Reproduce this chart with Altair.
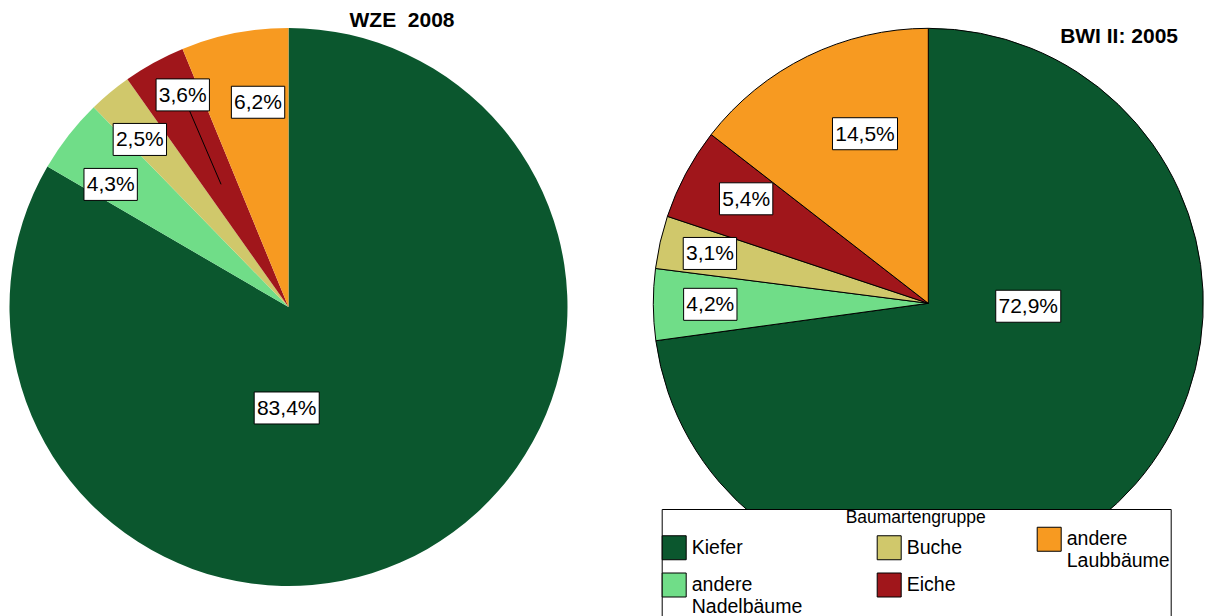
import math
import altair as alt
import pandas as pd

# ---------------- data ----------------
CATEGORIES = ["Kiefer", "andere Nadelbäume", "Buche", "Eiche", "andere Laubbäume"]
WZE_2008 = [83.4, 4.3, 2.5, 3.6, 6.2]
BWI_2005 = [72.9, 4.2, 3.1, 5.4, 14.5]
WZE_LABELS = ["83,4%", "4,3%", "2,5%", "3,6%", "6,2%"]
BWI_LABELS = ["72,9%", "4,2%", "3,1%", "5,4%", "14,5%"]
TITLE_WZE = "WZE\u00a0\u00a02008"
TITLE_BWI = "BWI II: 2005"
LEGEND_TITLE = "Baumartengruppe"
COLORS = ["#0b572e", "#70dd88", "#d0c86b", "#a0161b", "#f79a21"]

# ---------------- layout / style ----------------
FONT = "Liberation Sans"
LABEL_SIZE = 21
W, H = 1197, 608
LEFT = dict(cx=280.5, cy=299.0, R=279)
RIGHT = dict(cx=920.3, cy=295.3, R=275)
# (angle offset from slice middle in degrees, label radius in px)
PLACE_WZE = {"Kiefer": (30.9, 101), "andere Nadelbäume": (-3.4, 216), "Buche": (-1.8, 224),
             "Eiche": (2.3, 237), "andere Laubbäume": (2.7, 207)}
PLACE_BWI = {"Kiefer": (-39.4, 100), "andere Nadelbäume": (0.0, 218), "Buche": (0.0, 224),
             "Eiche": (1.7, 210), "andere Laubbäume": (5.6, 181)}
LEADER_WZE = {"Eiche": 140}

CHAR_W = {",": 0.278, "%": 0.889}


def text_width(s, size):
    return sum(CHAR_W.get(ch, 0.556) for ch in s) * size


def frame(values, labels, geo, place, leader=None):
    total = sum(values)
    rows, cum = [], 0.0
    for i, (c, v, l) in enumerate(zip(CATEGORIES, values, labels)):
        mid = (cum + v / 2) / total * 360
        cum += v
        dth, r = place[c]
        a = math.radians(mid + dth)
        lx = geo["cx"] + r * math.sin(a)
        ly = geo["cy"] - r * math.cos(a)
        tw = text_width(l, LABEL_SIZE) + 5.5
        row = dict(cat=c, idx=i, value=v, label=l, lx=lx, ly=ly,
                   bx1=lx - tw / 2, bx2=lx + tw / 2, by1=ly - 16, by2=ly + 16)
        if leader and c in leader:
            am = math.radians(mid)
            row["ax"] = geo["cx"] + leader[c] * math.sin(am)
            row["ay"] = geo["cy"] - leader[c] * math.cos(am)
        rows.append(row)
    return pd.DataFrame(rows)


wze = frame(WZE_2008, WZE_LABELS, LEFT, PLACE_WZE, LEADER_WZE)
bwi = frame(BWI_2005, BWI_LABELS, RIGHT, PLACE_BWI)

color_enc = alt.Color(
    "cat:N",
    scale=alt.Scale(domain=CATEGORIES, range=COLORS),
    legend=alt.Legend(
        title=LEGEND_TITLE, orient="none", legendX=653.7, legendY=501,
        columns=3, gridAlign="each", columnPadding=72, rowPadding=0,
        fillColor="white", strokeColor="black", padding=0,
        titleFont=FONT, titleFontSize=17.5, titleFontWeight="normal", titleColor="black",
        titleAnchor="middle", titlePadding=0,
        labelFont=FONT, labelFontSize=19.5, labelColor="black", labelOffset=5,
        labelExpr="split(datum.label, ' ')", labelLimit=300,
        symbolType="square", symbolSize=576, symbolStrokeColor="black",
        symbolStrokeWidth=1, symbolOpacity=1,
    ),
)


def pie(df, geo, stroke):
    kw = dict(radius=geo["R"])
    if stroke:
        kw.update(stroke="black", strokeWidth=1)
    return alt.Chart(df).mark_arc(**kw).encode(
        theta=alt.Theta("value:Q", stack="normalize"),
        color=color_enc,
        order=alt.Order("idx:Q", sort="ascending"),
        x=alt.value(geo["cx"]),
        y=alt.value(geo["cy"]),
    )


def labels(df):
    px = lambda f: alt.X(f, type="quantitative", scale=None, axis=None)
    py = lambda f: alt.Y(f, type="quantitative", scale=None, axis=None)
    boxes = alt.Chart(df).mark_rect(fill="white", stroke="black", strokeWidth=1).encode(
        x=px("bx1"), x2="bx2:Q", y=py("by1"), y2="by2:Q")
    texts = alt.Chart(df).mark_text(font=FONT, fontSize=LABEL_SIZE, color="black",
                                    align="center", baseline="middle", dy=1).encode(
        x=px("lx"), y=py("ly"), text="label:N")
    return boxes, texts


leader_df = wze.dropna(subset=["ax"])
leader = alt.Chart(leader_df).mark_rule(color="black", strokeWidth=1).encode(
    x=alt.X("lx:Q", scale=None, axis=None), y=alt.Y("ly:Q", scale=None, axis=None),
    x2="ax:Q", y2="ay:Q")

wb, wt = labels(wze)
bb, bt = labels(bwi)

title_l = alt.Chart(pd.DataFrame({"t": [TITLE_WZE]})).mark_text(
    font=FONT, fontSize=21, fontWeight="bold", color="black", align="center",
    baseline="alphabetic").encode(text="t:N", x=alt.value(394), y=alt.value(18.7))
title_r = alt.Chart(pd.DataFrame({"t": [TITLE_BWI]})).mark_text(
    font=FONT, fontSize=21, fontWeight="bold", color="black", align="right",
    baseline="alphabetic").encode(text="t:N", x=alt.value(1170), y=alt.value(35.3))

chart = alt.layer(
    pie(wze, LEFT, False), pie(bwi, RIGHT, True), leader, wb, wt, bb, bt, title_l, title_r
).properties(
    width=W, height=H, padding=0, autosize="none", background="white"
).configure_view(stroke=None)

chart.save("out.html", embed_options={"renderer": "svg", "actions": False})
